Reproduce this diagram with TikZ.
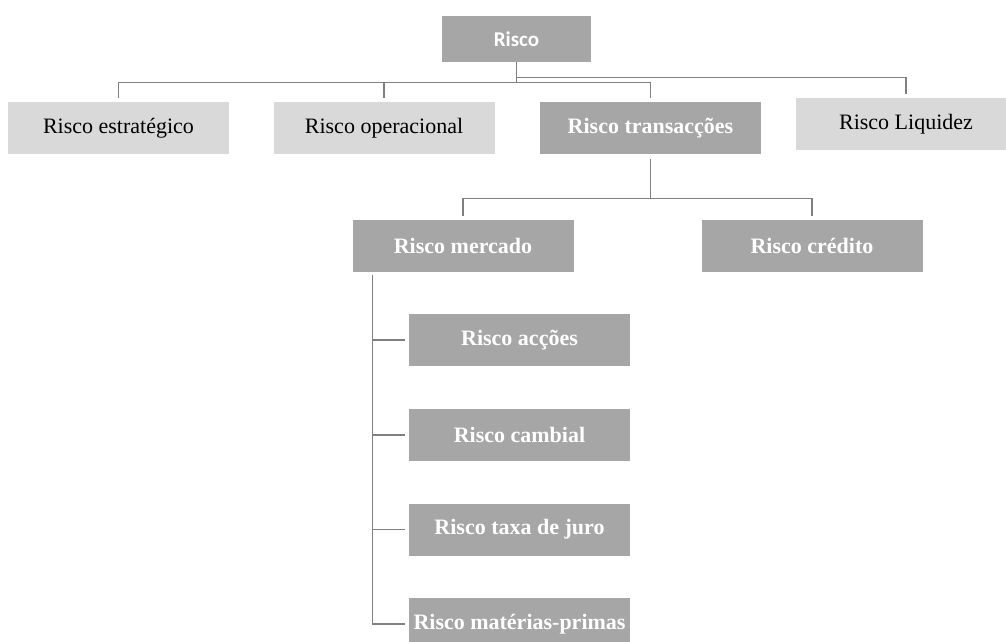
\documentclass[tikz,border=0pt]{standalone}
\usepackage{fontspec}
\setmainfont{Liberation Serif}
\newfontfamily\calibri{Carlito}
\usepackage{xcolor}
\usetikzlibrary{positioning}

\definecolor{boxlight}{HTML}{D9D9D9}
\definecolor{boxdark}{HTML}{A6A6A6}
\definecolor{linegray}{HTML}{808080}

\tikzset{
  box/.style={rectangle, minimum width=221pt, minimum height=52pt, inner sep=0pt},
  light/.style={box, fill=boxlight, font=\fontsize{22}{26}\selectfont},
  dark/.style={box, fill=boxdark, text=white, font=\fontsize{22}{26}\selectfont\bfseries},
  conn/.style={draw=linegray, line width=1.1pt},
}

\begin{document}
\begin{tikzpicture}[x=1pt,y=-1pt,on grid]
   \useasboundingbox (0,0) rectangle (1006,642);
   \clip (0,0) rectangle (1006,642);

   \node[dark, minimum width=149pt, minimum height=46pt, font=\calibri\fontsize{21}{24}\selectfont\bfseries] (risco) at (516.5,39) {Risco};

   \node[light] (estr) at (118.5,128) {Risco estratégico};
   \node[light] (oper) [right=265.5pt of estr] {Risco operacional};
   \node[dark] (trans) [right=266.5pt of oper] {Risco transacções};
   \node[light] (liq) at (906,124) {Risco Liquidez};

   \node[dark] (merc) at (463,246) {Risco mercado};
   \node[dark] (cred) [right=349pt of merc] {Risco crédito};

   \node[dark] (accoes) at (519.5,340) {Risco acções};
   \node[dark] (cambial) [below=95pt of accoes] {Risco cambial};
   \node[dark] (juro) [below=94.5pt of cambial] {Risco taxa de juro};
   \node[dark] (mprimas) [below=94.5pt of juro] {Risco matérias-primas};

   % first level
   \draw[conn, shorten >=4pt] (risco.south) -- ++(0,20) -| (estr.north);
   \draw[conn, shorten >=4pt] (risco.south) -- ++(0,20) -| (oper.north);
   \draw[conn, shorten >=4pt] (risco.south) -- ++(0,20) -| (trans.north);
   \draw[conn, shorten >=4pt] ([yshift=-15pt]risco.south) -| (liq.north);

   % transaccoes
   \draw[conn, shorten <=5pt, shorten >=4pt] (trans.south) -- ++(0,44) -| (merc.north);
   \draw[conn, shorten <=5pt, shorten >=4pt] (trans.south) -- ++(0,44) -| (cred.north);

   % mercado
   \foreach \n in {accoes, cambial, juro, mprimas}
      \draw[conn, shorten <=3pt, shorten >=4pt] ([xshift=20pt]merc.south west) |- (\n.west);
\end{tikzpicture}
\end{document}
